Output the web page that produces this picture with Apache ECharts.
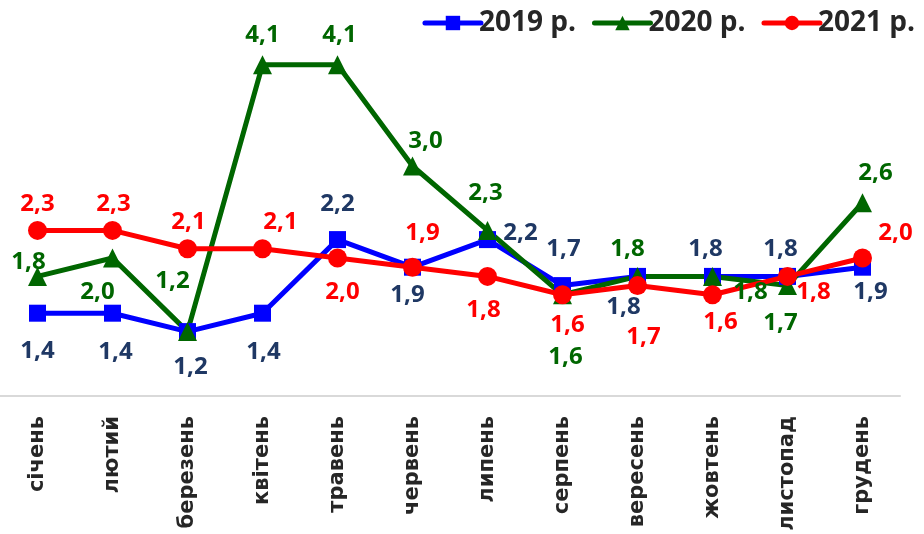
<!DOCTYPE html>
<html>
<head>
<meta charset="utf-8">
<script src="https://cdn.jsdelivr.net/npm/echarts@6/dist/echarts.min.js"></script>
<style>
  html, body { margin: 0; padding: 0; background: #fff; }
  #chart { width: 924px; height: 534px; }
</style>
</head>
<body>
<div id="chart"></div>
<script>
/* monthly values, three years */
const months = ['січень', 'лютий', 'березень', 'квітень', 'травень', 'червень',
  'липень', 'серпень', 'вересень', 'жовтень', 'листопад', 'грудень'];
const names = ['2019 р.', '2020 р.', '2021 р.'];
const y2019 = [1.4, 1.4, 1.2, 1.4, 2.2, 1.9, 2.2, 1.7, 1.8, 1.8, 1.8, 1.9];
const y2020 = [1.8, 2.0, 1.2, 4.1, 4.1, 3.0, 2.3, 1.6, 1.8, 1.8, 1.7, 2.6];
const y2021 = [2.3, 2.3, 2.1, 2.1, 2.0, 1.9, 1.8, 1.6, 1.7, 1.6, 1.8, 2.0];

// label nudges (px from the marker centre), picked by eye like in the original
const nudge = {
  a: [[0, 38], [3, 39], [3, 36], [1, 39], [0, -35], [-5, 28], [33, -6], [1, -36], [-14, 31], [-7, -27], [-7, -27], [8, 25]],
  b: [[-9, -14], [-15, 34], [-15, -50], [0, -30], [2, -30], [13, -25], [-2, -37], [3, 62], [-10, -27], [38, 16], [-7, 38], [13, -30]],
  c: [[0, -26], [1, -26], [1, -27], [18, -27], [5, 34], [10, -34], [-4, 34], [5, 30], [6, 52], [8, 27], [26, 16], [33, -25]],
};

const FONT = '"Open Sans", sans-serif';
const fmt = (v) => v.toFixed(1).replace('.', ',');

function mk(name, vals, off, lineCol, labCol, symbol, size) {
  return {
    name, type: 'line', data: vals.map((v, i) => ({ value: v, label: { offset: off[i] } })),
    symbol, symbolSize: size, showAllSymbol: true,
    lineStyle: { width: 5, color: lineCol }, itemStyle: { color: lineCol },
    label: {
      show: true, position: 'inside', formatter: (p) => fmt(p.value),
      color: labCol, fontFamily: FONT, fontWeight: 'bold', fontSize: 24,
    },
    emphasis: { disabled: true },
  };
}

const chart = echarts.init(document.getElementById('chart'));
chart.setOption({
  animation: false,
  grid: { left: 0, right: 24, top: 28, bottom: 138, containLabel: false, outerBoundsMode: 'none' },
  legend: {
    right: 4, top: 4, itemWidth: 56, itemHeight: 18, itemGap: 16,
    lineStyle: { width: 5, cap: 'round' },
    textStyle: { fontFamily: FONT, fontWeight: 'bold', fontSize: 28, color: '#262626', padding: [0, 0, 0, -7] },
    data: names,
  },
  xAxis: {
    type: 'category', data: months, boundaryGap: true,
    axisLine: { lineStyle: { color: '#d9d9d9', width: 2 } },
    axisTick: { show: false },
    axisLabel: { rotate: 90, margin: 20, interval: 0, fontFamily: '"DejaVu Sans", sans-serif', fontWeight: 'bold', fontSize: 21, color: '#262626' },
  },
  yAxis: { type: 'value', min: 0.5, max: 4.5, show: false },
  series: [
    mk(names[0], y2019, nudge.a, '#0000ff', '#1f3864', 'rect', 17),
    mk(names[1], y2020, nudge.b, '#006600', '#006600', 'triangle', 19),
    mk(names[2], y2021, nudge.c, '#ff0000', '#ff0000', 'circle', 19),
  ],
});
</script>
</body>
</html>
